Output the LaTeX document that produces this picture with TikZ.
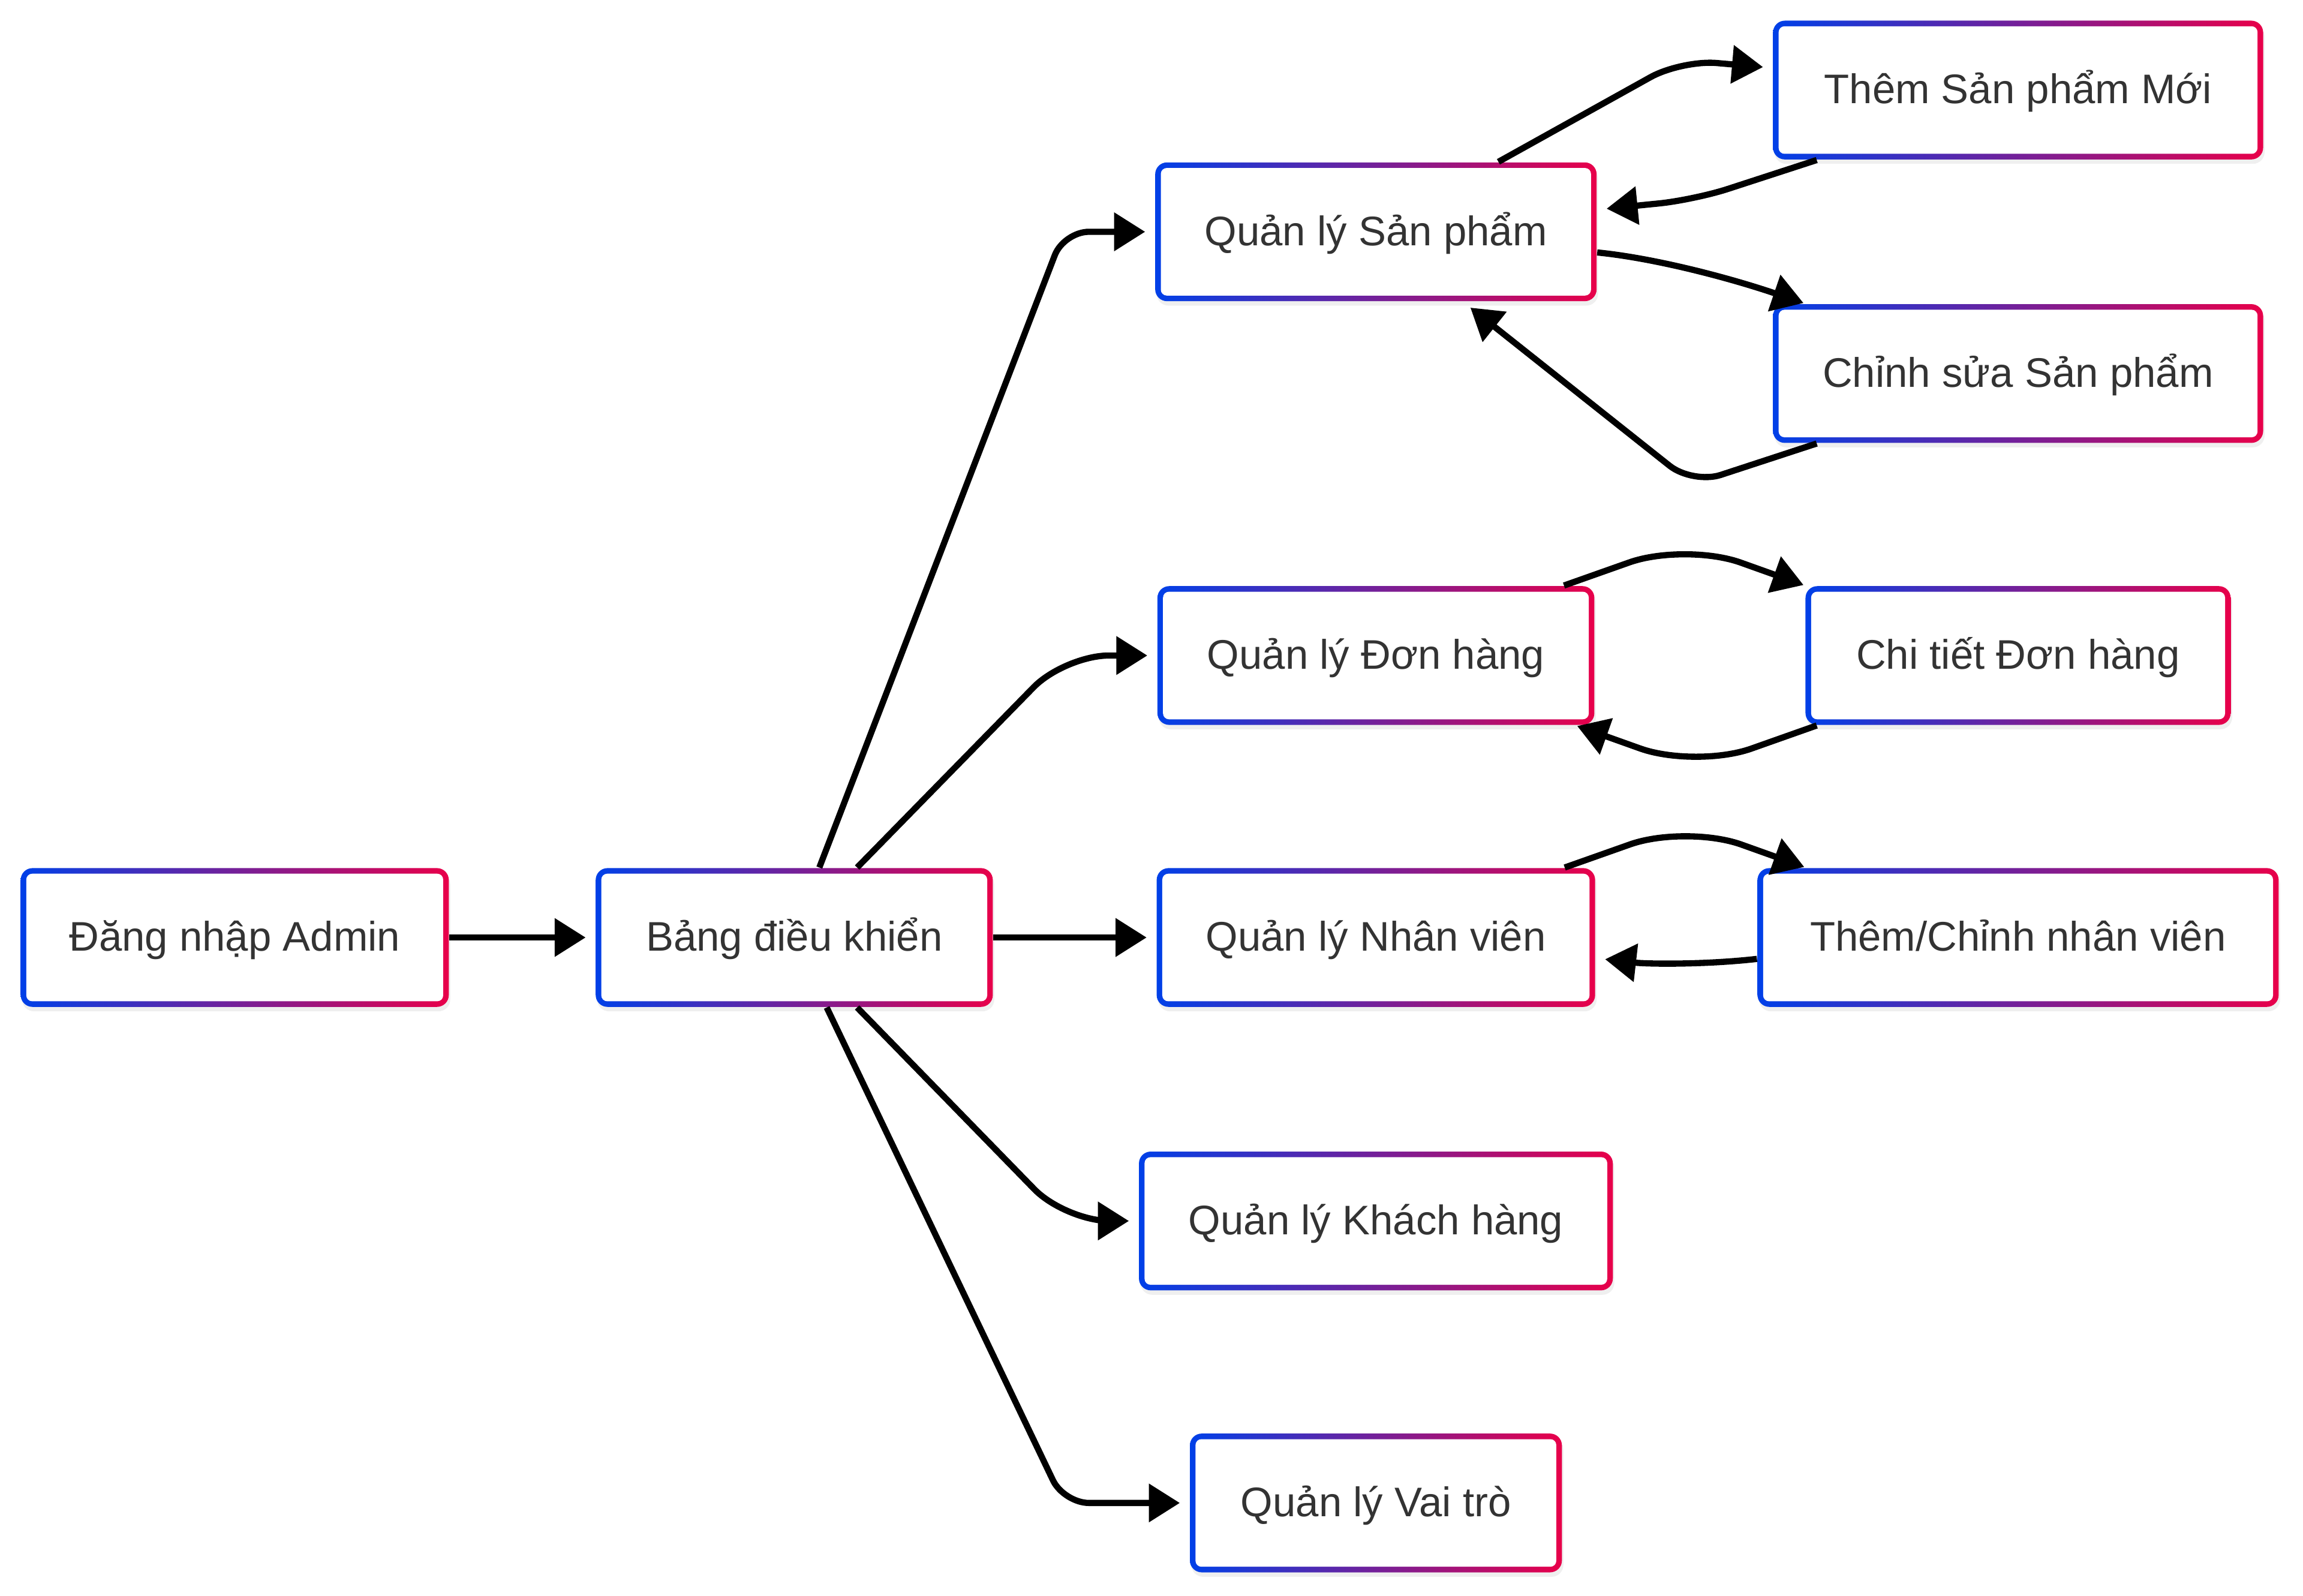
\documentclass[tikz,border=0pt]{standalone}
\usepackage{fontspec}
\setmainfont{Liberation Sans}
\usetikzlibrary{arrows.meta,shadows}

\definecolor{boxblue}{HTML}{0040E8}
\definecolor{boxred}{HTML}{E8004A}
\definecolor{labelgray}{HTML}{333333}

\tikzset{
  flowbox/.style={rectangle, rounded corners=4pt, minimum height=47pt, inner sep=0pt,
    font=\fontsize{14}{16}\selectfont, text=labelgray, text height=12pt, text depth=2.8pt,
    drop shadow={opacity=0.12, shadow xshift=0.5pt, shadow yshift=-1.5pt},
    path picture={
      \shade[left color=boxblue, right color=boxred]
        (path picture bounding box.south west) rectangle (path picture bounding box.north east);
      \fill[white, rounded corners=2pt]
        ([shift={(1.9pt,1.9pt)}]path picture bounding box.south west) rectangle
        ([shift={(-1.9pt,-1.9pt)}]path picture bounding box.north east);
    }},
  flowline/.style={line width=2.1pt, -{Triangle[length=10.5pt,width=12.6pt]},
    shorten >=3.2pt, rounded corners=8.5pt},
  touchline/.style={flowline, shorten >=0.5pt},
}

\begin{document}
\begin{tikzpicture}[x=0.5pt, y=-0.5pt]
\fill[white] (0,0) rectangle (1560,1081);
\useasboundingbox (0,0) rectangle (1560,1081);

% boxes
\node[flowbox, minimum width=145pt] (login) at (159,635) {Đăng nhập Admin};
\node[flowbox, minimum width=134.5pt] (dash) at (538,635) {Bảng điều khiển};
\node[flowbox, minimum width=149.5pt] (prod) at (932,157) {Quản lý Sản phẩm};
\node[flowbox, minimum width=148pt] (order) at (932,444) {Quản lý Đơn hàng};
\node[flowbox, minimum width=148.5pt] (staff) at (932,635) {Quản lý Nhân viên};
\node[flowbox, minimum width=160.5pt] (cust) at (932,827) {Quản lý Khách hàng};
\node[flowbox, minimum width=126pt] (role) at (932,1018) {Quản lý Vai trò};
\node[flowbox, minimum width=166pt] (newprod) at (1367,61) {Thêm Sản phẩm Mới};
\node[flowbox, minimum width=166pt] (editprod) at (1367,253) {Chỉnh sửa Sản phẩm};
\node[flowbox, minimum width=144pt] (orderdet) at (1367,444) {Chi tiết Đơn hàng};
\node[flowbox, minimum width=176.5pt] (editstaff) at (1367,635) {Thêm/Chỉnh nhân viên};

% dashboard links
\draw[flowline] (login) -- (dash);
\draw[flowline] ([shift={(17,0)}]dash.north) -- ([shift={(-61.5,0)}]prod.west) -- (prod.west);
\draw[flowline, rounded corners=15pt] ([shift={(42.6,0)}]dash.north) -- ([shift={(-62.4,0)}]order.west) -- (order.west);
\draw[flowline] (dash) -- (staff);
\draw[flowline, rounded corners=15pt] ([shift={(42.6,0)}]dash.south) -- ([shift={(-49.5,0)}]cust.west) -- (cust.west);
\draw[flowline] ([shift={(22,0)}]dash.south) -- ([shift={(-85,0)}]role.west) -- (role.west);

% product links
\draw[flowline, rounded corners=12pt] ([shift={(83,0)}]prod.north) -- ++(124,-69) -- ([shift={(0,-15)}]newprod.west);
\draw[flowline, rounded corners=12pt] ([shift={(30,0)}]newprod.south west) -- ++(-83,27) -- ([shift={(0,-15)}]prod.east);
\draw[touchline] ([shift={(0,14)}]prod.east) .. controls +(40,4) and +(-50,-17) .. ([shift={(22,0)}]editprod.north west);
\draw[flowline, rounded corners=10pt] ([shift={(30,0)}]editprod.south west) -- ++(-84,27.5) -- ([shift={(59,0)}]prod.south);

% order and staff links
\draw[touchline, rounded corners=20pt] ([shift={(-21,0)}]order.north east) -- ++(82,-29) -- (orderdet.north west);
\draw[touchline, rounded corners=20pt] ([shift={(8,0)}]orderdet.south west) -- ++(-82,29) -- ([shift={(-13,0)}]order.south east);
\draw[touchline, rounded corners=20pt] ([shift={(-21,0)}]staff.north east) -- ++(82,-29) -- ([shift={(33,0)}]editstaff.north west);
\draw[flowline] ([shift={(0,14.5)}]editstaff.west) .. controls +(-35,4) and +(35,4) .. ([shift={(0,14)}]staff.east);
\end{tikzpicture}
\end{document}
